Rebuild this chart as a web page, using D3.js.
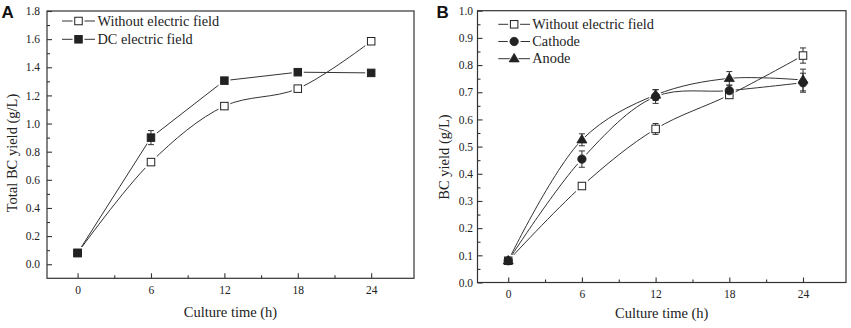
<!DOCTYPE html>
<html>
<head>
<meta charset="utf-8">
<script src="https://cdn.jsdelivr.net/npm/d3@7"></script>
<style>
  html, body { margin: 0; padding: 0; background: #fff; }
  svg { display: block; }
</style>
</head>
<body>
<svg id="chart" width="851" height="328"></svg>
<script>
// ---------- data ----------
const hours = [0, 6, 12, 18, 24];
const xTicks = [0, 6, 12, 18, 24];
const xMinor = [3, 9, 15, 21];

const aYTicks = [0.0, 0.2, 0.4, 0.6, 0.8, 1.0, 1.2, 1.4, 1.6, 1.8];
const aYMinor = [0.1, 0.3, 0.5, 0.7, 0.9, 1.1, 1.3, 1.5, 1.7];
const aWithout = [0.08, 0.726, 1.124, 1.248, 1.585];
const aWithoutErr = [0.01, 0.02, 0.02, 0.01, 0.01];
const aDC = [0.08, 0.90, 1.305, 1.365, 1.36];
const aDCErr = [0.01, 0.05, 0.01, 0.01, 0.01];

const bYTicks = [0.0, 0.1, 0.2, 0.3, 0.4, 0.5, 0.6, 0.7, 0.8, 0.9, 1.0];
const bYMinor = [0.05, 0.15, 0.25, 0.35, 0.45, 0.55, 0.65, 0.75, 0.85, 0.95];
const bWithout = [0.08, 0.355, 0.565, 0.69, 0.835];
const bWithoutErr = [0.01, 0.01, 0.02, 0.01, 0.028];
const bCathode = [0.08, 0.454, 0.684, 0.706, 0.735];
const bCathodeErr = [0.01, 0.03, 0.025, 0.02, 0.035];
const bAnode = [0.08, 0.525, 0.69, 0.751, 0.745];
const bAnodeErr = [0.01, 0.022, 0.02, 0.025, 0.04];

const aSeries = [
  { name: "Without electric field", values: aWithout, err: aWithoutErr, marker: "squareOpen", curve: d3.curveCatmullRom.alpha(0.5) },
  { name: "DC electric field", values: aDC, err: aDCErr, marker: "squareFilled", curve: d3.curveLinear }
];
const bSeries = [
  { name: "Without electric field", values: bWithout, err: bWithoutErr, marker: "squareOpen", curve: d3.curveCatmullRom.alpha(0.5) },
  { name: "Cathode", values: bCathode, err: bCathodeErr, marker: "circle", curve: d3.curveCatmullRom.alpha(0.5) },
  { name: "Anode", values: bAnode, err: bAnodeErr, marker: "triangle", curve: d3.curveCatmullRom.alpha(0.5) }
];

const SERIF = "Liberation Serif, Times New Roman, serif";
const SANS = "Liberation Sans, Arial, sans-serif";
const svg = d3.select("#chart");
const INK = "#222";

function drawMarker(g, type, x, y, halo) {
  const pad = halo ? 2.2 : 0;
  const fillC = halo ? "#fff" : (type === "squareOpen" ? "#fff" : INK);
  const strokeC = halo ? "none" : INK;
  if (type === "squareOpen" || type === "squareFilled") {
    const s = 7.5 + 2 * pad;
    g.append("rect").attr("x", x - s / 2).attr("y", y - s / 2).attr("width", s).attr("height", s)
      .attr("fill", fillC).attr("stroke", strokeC).attr("stroke-width", 1);
  } else if (type === "circle") {
    g.append("circle").attr("cx", x).attr("cy", y).attr("r", 4.2 + pad)
      .attr("fill", fillC).attr("stroke", strokeC).attr("stroke-width", 0.8);
  } else if (type === "triangle") {
    const r = 5.3 + pad;
    const pts = [[x, y - r], [x + r * 0.95, y + r * 0.6], [x - r * 0.95, y + r * 0.6]];
    g.append("path").attr("d", "M" + pts.map(p => p.join(",")).join("L") + "Z")
      .attr("fill", fillC).attr("stroke", strokeC).attr("stroke-width", 0.8);
  }
}

function panel(opts) {
  const { x0, x1, y0, y1, yDomain, yTicks, yMinor, series, yTitle, label, labelX,
          yLabelOffset, yTitleX, yTitleY, xTitleY, xTickY, legend, yFmt } = opts;
  const g = svg.append("g");
  const x = d3.scaleLinear().domain([-2.5, 27.5]).range([x0, x1]);
  const y = d3.scaleLinear().domain(yDomain).range([y1, y0]);

  // frame
  g.append("rect").attr("x", x0).attr("y", y0).attr("width", x1 - x0).attr("height", y1 - y0)
    .attr("fill", "none").attr("stroke", "#333").attr("stroke-width", 1.2);

  // x axis ticks (inward)
  const xAxis = d3.axisBottom(x).tickValues(xTicks).tickSize(-5).tickFormat(d3.format("d")).tickPadding(0);
  const xa = g.append("g").attr("transform", `translate(0,${y1})`).call(xAxis)
    .attr("font-family", SERIF);
  xa.select(".domain").remove();
  xa.selectAll(".tick line").attr("stroke", "#333").attr("stroke-width", 1.1);
  xa.selectAll(".tick text").attr("y", xTickY).attr("dy", 0).attr("font-size", 11.5)
    .attr("font-family", SERIF).attr("fill", INK);
  const xm = d3.axisBottom(x).tickValues(xMinor).tickSize(-3).tickFormat("");
  const xma = g.append("g").attr("transform", `translate(0,${y1})`).call(xm);
  xma.select(".domain").remove();
  xma.selectAll(".tick line").attr("stroke", "#333").attr("stroke-width", 1.1);

  // y axis ticks (inward)
  const yAxis = d3.axisLeft(y).tickValues(yTicks).tickSize(-5).tickFormat(d3.format(yFmt)).tickPadding(yLabelOffset);
  const ya = g.append("g").attr("transform", `translate(${x0},0)`).call(yAxis)
    .attr("font-family", SERIF);
  ya.select(".domain").remove();
  ya.selectAll(".tick line").attr("stroke", "#333").attr("stroke-width", 1.1);
  ya.selectAll(".tick text").attr("x", -yLabelOffset).attr("font-size", 11.5)
    .attr("font-family", SERIF).attr("fill", INK);
  const ym = d3.axisLeft(y).tickValues(yMinor).tickSize(-3).tickFormat("");
  const yma = g.append("g").attr("transform", `translate(${x0},0)`).call(ym);
  yma.select(".domain").remove();
  yma.selectAll(".tick line").attr("stroke", "#333").attr("stroke-width", 1.1);

  // titles
  g.append("text").attr("x", (x0 + x1) / 2).attr("y", xTitleY).attr("text-anchor", "middle")
    .attr("font-family", SERIF).attr("fill", INK).attr("font-size", 14.5).text("Culture time (h)");
  g.append("text").attr("transform", `translate(${yTitleX},${yTitleY}) rotate(-90)`)
    .attr("text-anchor", "middle").attr("font-family", SERIF).attr("fill", INK)
    .attr("font-size", 14.5).text(yTitle);
  g.append("text").attr("x", labelX).attr("y", 18.3)
    .attr("font-family", SANS).attr("font-weight", "bold")
    .attr("font-size", 17).attr("fill", "#111").text(label);

  // lines
  series.forEach(s => {
    const line = d3.line().x((d, i) => x(hours[i])).y(d => y(d)).curve(s.curve);
    g.append("path").attr("d", line(s.values)).attr("fill", "none")
      .attr("stroke", "#333").attr("stroke-width", 1);
  });
  // halos (gap between line and symbol)
  series.forEach(s => {
    s.values.forEach((v, i) => drawMarker(g, s.marker, x(hours[i]), y(v), true));
  });
  // error bars
  series.forEach(s => {
    s.values.forEach((v, i) => {
      const cx = x(hours[i]);
      const top = y(v + s.err[i]), bot = y(v - s.err[i]);
      g.append("line").attr("x1", cx).attr("x2", cx).attr("y1", top).attr("y2", bot)
        .attr("stroke", "#333").attr("stroke-width", 1);
      [top, bot].forEach(yy => g.append("line").attr("x1", cx - 3).attr("x2", cx + 3)
        .attr("y1", yy).attr("y2", yy).attr("stroke", "#333").attr("stroke-width", 1));
    });
  });
  // markers
  series.forEach(s => {
    s.values.forEach((v, i) => drawMarker(g, s.marker, x(hours[i]), y(v), false));
  });

  // legend
  series.forEach((s, i) => {
    const ly = legend.y + i * legend.dy;
    g.append("line").attr("x1", legend.x1).attr("x2", legend.x2).attr("y1", ly).attr("y2", ly)
      .attr("stroke", "#333").attr("stroke-width", 1);
    const mx = (legend.x1 + legend.x2) / 2;
    drawMarker(g, s.marker, mx, ly, true);
    drawMarker(g, s.marker, mx, ly, false);
    g.append("text").attr("x", legend.tx).attr("y", ly + legend.tdy)
      .attr("font-family", SERIF).attr("fill", INK).attr("font-size", 14.3).text(s.name);
  });
}

panel({
  x0: 47, x1: 414, y0: 11, y1: 278.3, yDomain: [-0.1, 1.8],
  yTicks: aYTicks, yMinor: aYMinor, series: aSeries, yTitle: "Total BC yield (g/L)",
  label: "A", labelX: 1.5, yLabelOffset: 7, yTitleX: 17, yTitleY: 153, xTitleY: 316.5, xTickY: 15.5,
  legend: { x1: 62, x2: 95, y: 21, dy: 18.3, tx: 97.5, tdy: 4.8 }, yFmt: ".1f"
});
panel({
  x0: 477.5, x1: 846, y0: 10.7, y1: 282.5, yDomain: [0, 1.0],
  yTicks: bYTicks, yMinor: bYMinor, series: bSeries, yTitle: "BC yield (g/L)",
  label: "B", labelX: 436.5, yLabelOffset: 4.5, yTitleX: 449, yTitleY: 157, xTitleY: 318, xTickY: 15.5,
  legend: { x1: 498.3, x2: 530, y: 24.3, dy: 17.2, tx: 532.3, tdy: 4.6 }, yFmt: ".1f"
});
</script>
</body>
</html>
